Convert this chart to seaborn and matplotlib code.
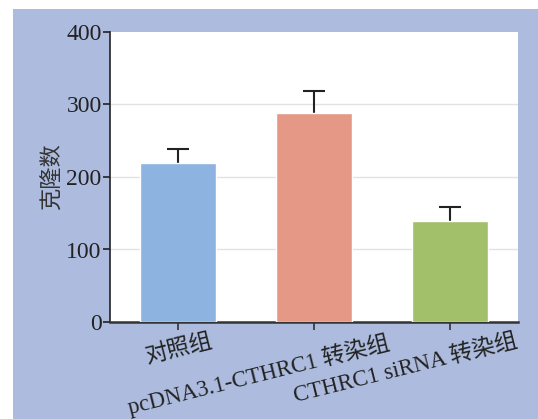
import numpy as np
import pandas as pd
import seaborn as sns
import matplotlib.pyplot as plt
import matplotlib.transforms as mtransforms
from matplotlib.patches import Rectangle

# 数据
groups = ["对照组", "pcDNA3.1-CTHRC1 转染组", "CTHRC1 siRNA 转染组"]
clones = [219, 288, 139]
clones_err = [20, 31, 19]
bar_colors = ["#8db3e0", "#e69886", "#a2bf69"]

sns.set_theme(style="white", rc={
    "axes.facecolor": "white",
    "figure.facecolor": "white",
    "xtick.bottom": True,
    "ytick.left": True,
})
plt.rcParams["font.family"] = ["Liberation Serif", "Noto Sans CJK SC"]

df = pd.DataFrame({"group": groups, "clones": clones})

fig = plt.figure(figsize=(5.38, 4.19), dpi=100)
# 淡紫蓝背景
fig.patches.append(Rectangle((13 / 538, 0), 1, 1 - 9 / 419, transform=fig.transFigure,
                             facecolor="#adbcde", edgecolor="none", zorder=0))
ax = fig.add_axes([110 / 538, 1 - 322 / 419, 408 / 538, 290 / 419])
ax.set_zorder(1)

sns.barplot(data=df, x="group", y="clones", hue="group", palette=bar_colors,
            width=0.56, saturation=1, legend=False, ax=ax, zorder=3)
eb = ax.errorbar(range(len(groups)), clones, yerr=[[0] * 3, clones_err], fmt="none",
                 ecolor="#222222", elinewidth=1.5, capsize=8, capthick=1.5, zorder=2)
eb[1][0].set_visible(False)  # 只保留上方横帽

ax.set_ylim(0, 400)
ax.set_xlim(-0.5, 2.5)
ax.set_yticks([0, 100, 200, 300, 400])
for y in [100, 200, 300]:
    ax.axhline(y, color="#e2e2e2", lw=1, zorder=1)

for s in ["top", "right"]:
    ax.spines[s].set_visible(False)
ax.spines["left"].set_color("#222222")
ax.spines["bottom"].set_color("#333333")
ax.spines["left"].set_linewidth(1.2)
ax.spines["bottom"].set_linewidth(1.8)

ax.tick_params(axis="y", length=5, width=1.2, color="#222222", labelsize=17,
               labelcolor="#222222", pad=1)
ax.tick_params(axis="x", length=6, width=1.2, color="#333333", labelsize=16.5,
               labelcolor="#222222", pad=0)

# 倾斜的分组标签
shifts = [32, 72, 65]
for lab, dx in zip(ax.get_xticklabels(), shifts):
    lab.set_rotation(14)
    lab.set_ha("right")
    lab.set_rotation_mode("anchor")
    lab.set_transform(lab.get_transform() +
                      mtransforms.ScaledTranslation(dx / 100, 0, fig.dpi_scale_trans))

ax.set_xlabel("")
ax.set_ylabel("克隆数", fontsize=16, color="#333333", labelpad=2,
              family=["Noto Sans CJK SC"])

fig.savefig("out.png", dpi=100)
